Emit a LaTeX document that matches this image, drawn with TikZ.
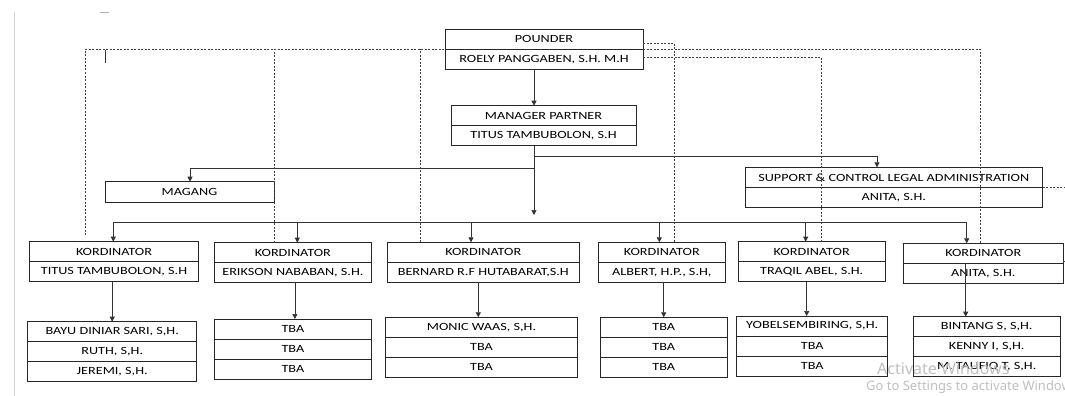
\documentclass[tikz,border=0pt]{standalone}
\usepackage{fontspec}
\setmainfont{Carlito}[FakeStretch=1.29]
\newfontfamily\wmfont{Noto Sans}
\usetikzlibrary{positioning,arrows.meta}

\tikzset{
  cell/.style={draw=black!85, line width=0.7pt, inner sep=0pt, outer sep=0pt,
    minimum height=20pt, text=black, font=\fontsize{11}{13}\selectfont},
  link/.style={draw=black!80, line width=0.7pt},
  arr/.style={link, -{Triangle[length=5pt,width=5pt]}},
  guide/.style={draw=black!75, line width=0.6pt, dash pattern=on 2pt off 1.5pt},
}

\begin{document}
\begin{tikzpicture}[x=1pt,y=-1pt]
    \useasboundingbox (0,0) rectangle (1065,396);

    % page edge and cursor marks
    \draw[gray!35, line width=1.2pt] (14.5,12) -- (14.5,396);
    \draw[gray!60, line width=0.8pt] (100,12) -- (109,12);
    \draw[black!80, line width=0.7pt] (105,50) -- (105,63);

    % Draw top boxes
    \node[cell, minimum width=198pt] (pA) at (544,39.3) {POUNDER};
    \node[cell, minimum width=198pt, below=0pt of pA] (pB) {ROELY PANGGABEN, S.H. M.H};
    \node[cell, minimum width=185pt] (mA) at (543.5,115.7) {MANAGER PARTNER};
    \node[cell, minimum width=185pt, below=0pt of mA] (mB) {TITUS TAMBUBOLON, S.H};
    \node[cell, minimum width=169pt, minimum height=20.6pt] (mag) at (189.5,192) {MAGANG};
    \node[cell, minimum width=297.5pt] (sA) at (893.8,177.3) {SUPPORT \& CONTROL LEGAL ADMINISTRATION};
    \node[cell, minimum width=297.5pt, below=0pt of sA] (sB) {ANITA, S.H.};

    % Draw coordinator boxes
    \node[cell, minimum width=169.4pt] (k1a) at (114,251.7) {KORDINATOR};
    \node[cell, minimum width=169.4pt, below=0pt of k1a] (k1b) {TITUS TAMBUBOLON, S.H};
    \node[cell, minimum width=157.7pt] (k2a) at (292.9,252.7) {KORDINATOR};
    \node[cell, minimum width=157.7pt, below=0pt of k2a] (k2b) {ERIKSON NABABAN, S.H.};
    \node[cell, minimum width=192pt] (k3a) at (483.3,252.3) {KORDINATOR};
    \node[cell, minimum width=192pt, below=0pt of k3a] (k3b) {BERNARD R.F HUTABARAT,S.H};
    \node[cell, minimum width=127pt] (k4a) at (661.8,252.3) {KORDINATOR};
    \node[cell, minimum width=127pt, below=0pt of k4a] (k4b) {ALBERT, H.P., S.H,};
    \node[cell, minimum width=146.7pt] (k5a) at (811.7,251.7) {KORDINATOR};
    \node[cell, minimum width=146.7pt, below=0pt of k5a] (k5b) {TRAQIL ABEL, S.H.};
    \node[cell, minimum width=160pt] (k6a) at (983.3,253.3) {KORDINATOR};
    \node[cell, minimum width=160pt, below=0pt of k6a] (k6b) {ANITA, S.H.};

    % Draw staff boxes
    \node[cell, minimum width=169pt] (s1a) at (112.2,331.7) {BAYU DINIAR SARI, S,H.};
    \node[cell, minimum width=169pt, below=0pt of s1a] (s1b) {RUTH, S,H.};
    \node[cell, minimum width=169pt, below=0pt of s1b] (s1c) {JEREMI, S,H.};
    \node[cell, minimum width=157.7pt] (s2a) at (292.9,329) {TBA};
    \node[cell, minimum width=157.7pt, below=0pt of s2a] (s2b) {TBA};
    \node[cell, minimum width=157.7pt, below=0pt of s2b] (s2c) {TBA};
    \node[cell, minimum width=191.6pt] (s3a) at (481.5,327.3) {MONIC WAAS, S,H.};
    \node[cell, minimum width=191.6pt, below=0pt of s3a] (s3b) {TBA};
    \node[cell, minimum width=191.6pt, below=0pt of s3b] (s3c) {TBA};
    \node[cell, minimum width=127.3pt] (s4a) at (663.7,327.3) {TBA};
    \node[cell, minimum width=127.3pt, below=0pt of s4a] (s4b) {TBA};
    \node[cell, minimum width=127.3pt, below=0pt of s4b] (s4c) {TBA};
    \node[cell, minimum width=151pt] (s5a) at (812.2,326) {YOBELSEMBIRING, S,H.};
    \node[cell, minimum width=151pt, below=0pt of s5a] (s5b) {TBA};
    \node[cell, minimum width=151pt, below=0pt of s5b] (s5c) {TBA};
    \node[cell, minimum width=146.7pt] (s6a) at (986.7,326.7) {BINTANG S, S,H.};
    \node[cell, minimum width=146.7pt, below=0pt of s6a] (s6b) {KENNY I, S,H.};
    \node[cell, minimum width=146.7pt, below=0pt of s6b] (s6c) {M. TAUFIQ T, S,H.};

    % Helper points
    \coordinate (spine) at (534,0);
    \coordinate (hub) at (534,215);
    \coordinate (tapR) at (534,156);
    \coordinate (tapL) at (534,168);
    \coordinate (busL) at (113.3,222.3);
    \coordinate (busR) at (966.7,222.3);
    \coordinate (g1) at (85.5,235);
    \coordinate (edgeR) at (1065,0);

    % Draw solid connectors
    \draw[arr] (spine |- pB.south) -- (spine |- mA.north);
    \draw[arr] (spine |- mB.south) -- (hub);
    \draw[arr] (tapL) -| ([xshift=0.5pt]mag.north);
    \draw[arr] (tapR) -| ([xshift=-16.8pt]sA.north);
    \draw[link] (busL) -- (busR);
    \draw[arr] (busL) -- (busL |- k1a.north);
    \draw[arr] ([xshift=4.4pt]k2a.north |- busL) -- ([xshift=4.4pt]k2a.north);
    \draw[arr] ([xshift=-12.3pt]k3a.north |- busL) -- ([xshift=-12.3pt]k3a.north);
    \draw[arr] ([xshift=-2.5pt]k4a.north |- busL) -- ([xshift=-2.5pt]k4a.north);
    \draw[arr] ([xshift=-6pt]k5a.north |- busL) -- ([xshift=-6pt]k5a.north);
    \draw[arr] (busR) -- (busR |- k6a.north);

    \draw[arr] (s1a.north |- k1b.south) -- (s1a.north);
    \draw[arr] ([xshift=2pt]s2a.north |- k2b.south) -- ([xshift=2pt]s2a.north);
    \draw[arr] ([xshift=-3.2pt]s3a.north |- k3b.south) -- ([xshift=-3.2pt]s3a.north);
    \draw[arr] (s4a.north |- k4b.south) -- (s4a.north);
    \draw[arr] ([xshift=-5.5pt]s5a.north |- k5b.south) -- ([xshift=-5.5pt]s5a.north);
    \draw[arr] ([xshift=-21pt]s6a.north |- k6b.north) -- ([xshift=-21pt]s6a.north);

    % Draw dashed lines from the founder
    \draw[guide] (g1) |- (pB.north west);
    \draw[guide] (pB.north east) -| ([xshift=-3.3pt]k6a.north);
    \draw[guide] ([xshift=-18.5pt]k2a.north) -- ([xshift=-18.5pt]k2a.north |- pB.north);
    \draw[guide] ([xshift=-62.6pt]k3a.north) -- ([xshift=-62.6pt]k3a.north |- pB.north);
    \draw[guide] ([yshift=-4pt]pA.east) -| ([xshift=12.2pt]k4a.north);
    \draw[guide] ([yshift=1.6pt]pB.east) -| ([xshift=9.8pt]k5a.north);
    \draw[guide] (sA.south east) -- (sA.south east -| edgeR);
    \draw[guide] ([yshift=2pt]k6a.south east) -- ([yshift=2pt]k6a.south east -| edgeR);

    % watermark
    \node[anchor=base west, inner sep=0pt, text=gray!50, font=\wmfont\fontsize{16}{17}\selectfont] (wm1) at (877,374) {Activate Windows};
    \node[anchor=base west, inner sep=0pt, text=gray!50, font=\wmfont\fontsize{13}{14}\selectfont] (wm2) at (866,390) {Go to Settings to activate Windows};

\end{tikzpicture}
\end{document}
